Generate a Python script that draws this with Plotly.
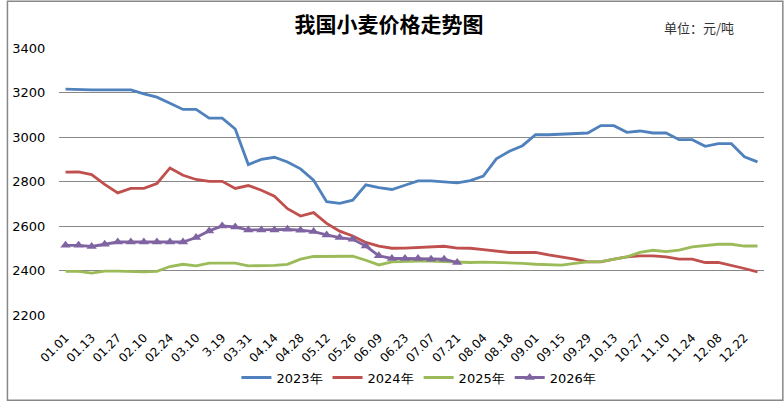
import plotly.graph_objects as go

categories = [
    "01.01", "01.06", "01.13", "01.20", "01.27", "02.03", "02.10", "02.17", "02.24", "03.03",
    "03.10", "03.14", "3.19", "03.24", "03.31", "04.07", "04.14", "04.21", "04.28", "05.05",
    "05.12", "05.19", "05.26", "06.02", "06.09", "06.16", "06.23", "06.30", "07.07", "07.14",
    "07.21", "07.28", "08.04", "08.11", "08.18", "08.25", "09.01", "09.08", "09.15", "09.22",
    "09.29", "10.06", "10.13", "10.20", "10.27", "11.03", "11.10", "11.17", "11.24", "12.01",
    "12.08", "12.15", "12.22", "12.29",
]
tick_labels = categories[::2]

y2023 = [3215, 3212, 3212, 3212, 3212, 3212, 3194, 3179, 3152, 3124,
         3124, 3085, 3085, 3036, 2876, 2899, 2909, 2888, 2857, 2806,
         2709, 2702, 2716, 2785, 2772, 2764, 2783, 2803, 2803, 2798,
         2794, 2804, 2824, 2902, 2936, 2961, 3010, 3010, 3012, 3015,
         3018, 3051, 3051, 3021, 3027, 3018, 3018, 2988, 2988, 2958,
         2970, 2970, 2911, 2888]
y2024 = [2842, 2843, 2831, 2787, 2749, 2769, 2769, 2791, 2861, 2828,
         2809, 2801, 2801, 2769, 2782, 2761, 2734, 2678, 2645, 2660,
         2612, 2577, 2555, 2526, 2510, 2500, 2501, 2504, 2506, 2509,
         2501, 2500, 2494, 2486, 2481, 2481, 2481, 2470, 2461, 2451,
         2439, 2439, 2451, 2461, 2466, 2466, 2461, 2451, 2451, 2436,
         2436, 2424, 2409, 2394]
y2025 = [2396, 2396, 2388, 2397, 2397, 2394, 2394, 2396, 2418, 2428,
         2421, 2433, 2433, 2433, 2421, 2421, 2423, 2428, 2451, 2463,
         2463, 2466, 2464, 2446, 2425, 2439, 2442, 2442, 2442, 2440,
         2439, 2436, 2438, 2436, 2436, 2432, 2428, 2425, 2424, 2432,
         2439, 2440, 2451, 2461, 2481, 2491, 2485, 2492, 2506, 2513,
         2518, 2518, 2510, 2510]
y2026 = [2513, 2513, 2508, 2518, 2528, 2528, 2528, 2528, 2528, 2528,
         2548, 2578, 2600, 2596, 2582, 2582, 2582, 2585, 2581, 2575,
         2560, 2548, 2540, 2510, 2466, 2454, 2454, 2454, 2451, 2451,
         2436]

series_names = ["2023年", "2024年", "2025年", "2026年"]
colors = ["#4F81BD", "#C0504D", "#9BBB59", "#8064A2"]

W, H = 784, 404
L, R, T, B = 53, 20, 48, 87
pw, ph = W - L - R, H - T - B

fig = go.Figure()
for name, ys, col in zip(series_names[:3], [y2023, y2024, y2025], colors[:3]):
    fig.add_trace(go.Scatter(x=categories[:len(ys)], y=ys, name=name, mode="lines",
                             line=dict(color=col, width=2.8)))
fig.add_trace(go.Scatter(x=categories[:len(y2026)], y=y2026, name=series_names[3],
                         mode="lines+markers",
                         line=dict(color=colors[3], width=2.8),
                         marker=dict(symbol="triangle-up", size=9, color=colors[3])))

fig.update_layout(
    width=W, height=H,
    margin=dict(l=L, r=R, t=T, b=B),
    paper_bgcolor="white", plot_bgcolor="white",
    font=dict(family="DejaVu Sans", size=12, color="black"),
    showlegend=True,
    legend=dict(orientation="h", x=(416 - L) / pw, xanchor="center",
                y=(H - B - 380) / ph, yanchor="middle",
                font=dict(family="DejaVu Sans", size=13), itemwidth=30),
    title=dict(text="<b>我国小麦价格走势图</b>", x=389 / W, xanchor="center",
               y=1 - 25 / H, yanchor="middle",
               font=dict(family="Noto Sans CJK SC", size=21, color="black")),
)
fig.add_annotation(text="单位：元/吨", xref="paper", yref="paper",
                   x=(698 - L) / pw, y=(H - B - 27) / ph, showarrow=False,
                   xanchor="center", yanchor="middle",
                   font=dict(family="Noto Sans CJK SC", size=13, color="#333333"))
fig.add_shape(type="rect", xref="paper", yref="paper",
              x0=(1 - L) / pw, x1=(783 - L) / pw,
              y0=(H - B - 403) / ph, y1=(H - B - 1) / ph,
              line=dict(color="#888888", width=1.5))

fig.update_xaxes(type="category", categoryorder="array", categoryarray=categories,
                 range=[-0.5, len(categories) - 0.5],
                 tickmode="array", tickvals=tick_labels, ticktext=tick_labels,
                 tickangle=-45, showgrid=False, showline=False, zeroline=False,
                 ticks="outside", ticklen=10, tickcolor="rgba(0,0,0,0)",
                 tickfont=dict(size=12))
fig.update_yaxes(range=[2200, 3400], dtick=200, showgrid=True, gridcolor="#888888",
                 gridwidth=1, zeroline=False, showline=False,
                 ticks="outside", ticklen=10, tickcolor="rgba(0,0,0,0)",
                 tickfont=dict(size=13))

fig.write_html("out.html", config={"displayModeBar": False},
               post_script="document.body.style.margin='0';document.body.style.overflow='hidden';")
